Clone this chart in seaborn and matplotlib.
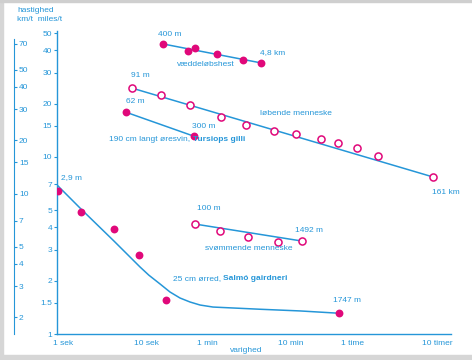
import numpy as np
import matplotlib
matplotlib.use('Agg')
import matplotlib.pyplot as plt
import matplotlib.ticker as mticker
from matplotlib.transforms import ScaledTranslation
from matplotlib.patches import Rectangle
import seaborn as sns

# speed (miles/t) against duration (seconds)
horse_t = [20.4, 41.4, 50.5, 94.5, 198, 330]
horse_v = [43.5, 39.7, 41.3, 38.2, 35.3, 34.0]

run_t = [8.43, 19.2, 43.9, 106, 215, 478, 893, 1816, 2944, 5055, 9180, 43850]
run_v = [24.5, 22.4, 19.7, 16.8, 15.2, 14.0, 13.5, 12.6, 12.0, 11.2, 10.1, 7.71]

dolphin_t = [7.11, 49.1]
dolphin_v = [17.9, 13.1]

swim_t = [50.5, 103, 228, 535, 1059]
swim_v = [4.18, 3.82, 3.53, 3.31, 3.35]

trout_t = [1.03, 1.98, 5.05, 10.3, 22.2, 3030]
trout_v = [6.43, 4.89, 3.92, 2.79, 1.56, 1.31]
trout_curve_t = [1.0, 1.98, 5.05, 10.6, 13.6, 18.7, 24.8, 33.0, 43.9, 58.3, 84.3, 320, 1000, 3030]
trout_curve_v = [6.95, 5.08, 3.35, 2.39, 2.15, 1.917, 1.727, 1.597, 1.516, 1.458, 1.42, 1.38, 1.35, 1.31]

x_ticks = [1, 10, 60, 600, 3600, 36000]
x_labels = ['1 sek', '10 sek', '1 min', '10 min', '1 time', '10 timer']
miles_ticks = [1, 1.5, 2, 3, 4, 5, 7, 10, 15, 20, 30, 40, 50]
km_ticks = [2, 3, 4, 5, 7, 10, 15, 20, 30, 40, 50, 70]
KM_PER_MILE = 1.609

BLUE = '#2596d8'
MAG = '#e0087a'

sns.set_style('white')
plt.rcParams['font.family'] = ['Liberation Sans', 'DejaVu Sans']
plt.rcParams['font.size'] = 6

fig = plt.figure(figsize=(4.72, 3.6), dpi=100)
ax = fig.add_axes([0.1208, 0.0722, 0.8347, 0.8417])
ax.set_xscale('log')
ax.set_yscale('log')
ax.set_xlim(1, 73000)
ax.set_ylim(1, 51.5)

# lines
ax.plot([horse_t[0], horse_t[-1]], [horse_v[0], horse_v[-1]], color=BLUE, lw=1.1, zorder=2)
ax.plot([run_t[0], run_t[-1]], [run_v[0], run_v[-1]], color=BLUE, lw=1.1, zorder=2)
ax.plot(dolphin_t, dolphin_v, color=BLUE, lw=1.1, zorder=2)
ax.plot([swim_t[0], swim_t[-1]], [swim_v[0], swim_v[-1]], color=BLUE, lw=1.1, zorder=2)
sns.lineplot(x=trout_curve_t, y=trout_curve_v, sort=False, estimator=None,
             color=BLUE, lw=1.1, ax=ax, zorder=2)

# markers
for t, v in [(horse_t, horse_v), (dolphin_t, dolphin_v), (trout_t, trout_v)]:
    sns.scatterplot(x=t, y=v, color=MAG, s=32, linewidth=0, ax=ax, zorder=3)
for t, v in [(run_t, run_v), (swim_t, swim_v)]:
    sns.scatterplot(x=t, y=v, facecolor='white', edgecolor=MAG, s=26, linewidth=1.1, ax=ax, zorder=3)

# axes styling
for s in ['top', 'right']:
    ax.spines[s].set_visible(False)
for s in ['left', 'bottom']:
    ax.spines[s].set_color(BLUE)
    ax.spines[s].set_linewidth(1.0)

ax.xaxis.set_major_locator(mticker.FixedLocator(x_ticks))
ax.xaxis.set_minor_locator(mticker.NullLocator())
ax.set_xticklabels(x_labels)
ax.yaxis.set_major_locator(mticker.FixedLocator(miles_ticks))
ax.yaxis.set_minor_locator(mticker.NullLocator())
ax.set_yticklabels([str(m) for m in miles_ticks])
ax.tick_params(axis='x', direction='in', length=3, width=0.8, color=BLUE, labelcolor=BLUE, pad=4, labelsize=6)
ax.tick_params(axis='y', direction='out', length=2.5, width=0.8, color=BLUE, labelcolor=BLUE, pad=1, labelsize=6)
for lbl in ax.get_xticklabels():
    lbl.set_horizontalalignment('left')
    lbl.set_transform(lbl.get_transform() + ScaledTranslation(-4 / 100, 0, fig.dpi_scale_trans))

# km/t axis, offset to the left
ax2 = ax.twinx()
ax2.set_yscale('log')
ax2.set_ylim(1 * KM_PER_MILE, 51.5 * KM_PER_MILE)
for s in ['top', 'left', 'bottom']:
    ax2.spines[s].set_visible(False)
ax2.spines['right'].set_position(('axes', -43 / 394))
ax2.spines['right'].set_bounds(KM_PER_MILE, 75)
ax2.spines['right'].set_color(BLUE)
ax2.yaxis.set_major_locator(mticker.FixedLocator(km_ticks))
ax2.yaxis.set_minor_locator(mticker.NullLocator())
ax2.set_yticklabels([str(k) for k in km_ticks])
ax2.tick_params(axis='y', direction='out', length=2.5, width=0.8, color=BLUE, labelcolor=BLUE, pad=1, labelsize=6)

# labels
txt = dict(color=BLUE, fontsize=6, ha='left', va='center')
ax.text(17.7, 48.9, '400 m', **txt)
ax.text(321, 38.7, '4,8 km', **txt)
ax.text(30.3, 33.5, 'væddeløbshest', **txt)
ax.text(8.2, 28.7, '91 m', **txt)
ax.text(321, 17.7, 'løbende menneske', **txt)
ax.text(42600, 6.34, '161 km', **txt)
ax.text(7.11, 20.5, '62 m', **txt)
ax.text(46.4, 14.8, '300 m', **txt)
t1 = ax.text(4.39, 12.5, '190 cm langt øresvin, ', **txt)
ax.annotate('Tursiops gilli', xy=(1, 0.5), xycoords=t1, color=BLUE, fontsize=6,
            fontweight='bold', ha='left', va='center')
ax.text(53.5, 5.15, '100 m', **txt)
ax.text(867, 3.82, '1492 m', **txt)
ax.text(67.2, 3.06, 'svømmende menneske', **txt)
t2 = ax.text(27.0, 2.05, '25 cm ørred, ', **txt)
ax.annotate('Salmó gairdneri', xy=(1, 0.5), xycoords=t2, color=BLUE, fontsize=6,
            fontweight='bold', ha='left', va='center')
ax.text(2555, 1.54, '1747 m', **txt)
ax.text(1.12, 7.61, '2,9 m', **txt)

fig.text(230 / 472, 1 - 351 / 360, 'varighed', color=BLUE, fontsize=6, ha='left', va='center')
fig.text(17 / 472, 1 - 11 / 360, 'hastighed', color=BLUE, fontsize=6, ha='left', va='center')
fig.text(17 / 472, 1 - 19.5 / 360, 'km/t  miles/t', color=BLUE, fontsize=6, ha='left', va='center')

# scan frame
fig.patches.append(Rectangle((0, 0), 3 / 472, 1, transform=fig.transFigure, color='#d6d6d6', zorder=0))
fig.patches.append(Rectangle((0, 0), 1, 5 / 360, transform=fig.transFigure, color='#d6d6d6', zorder=0))
fig.patches.append(Rectangle((0, 1 - 1.5 / 360), 1, 1.5 / 360, transform=fig.transFigure, color='#cfcfcf', zorder=0))

fig.savefig('out.png', dpi=100)
